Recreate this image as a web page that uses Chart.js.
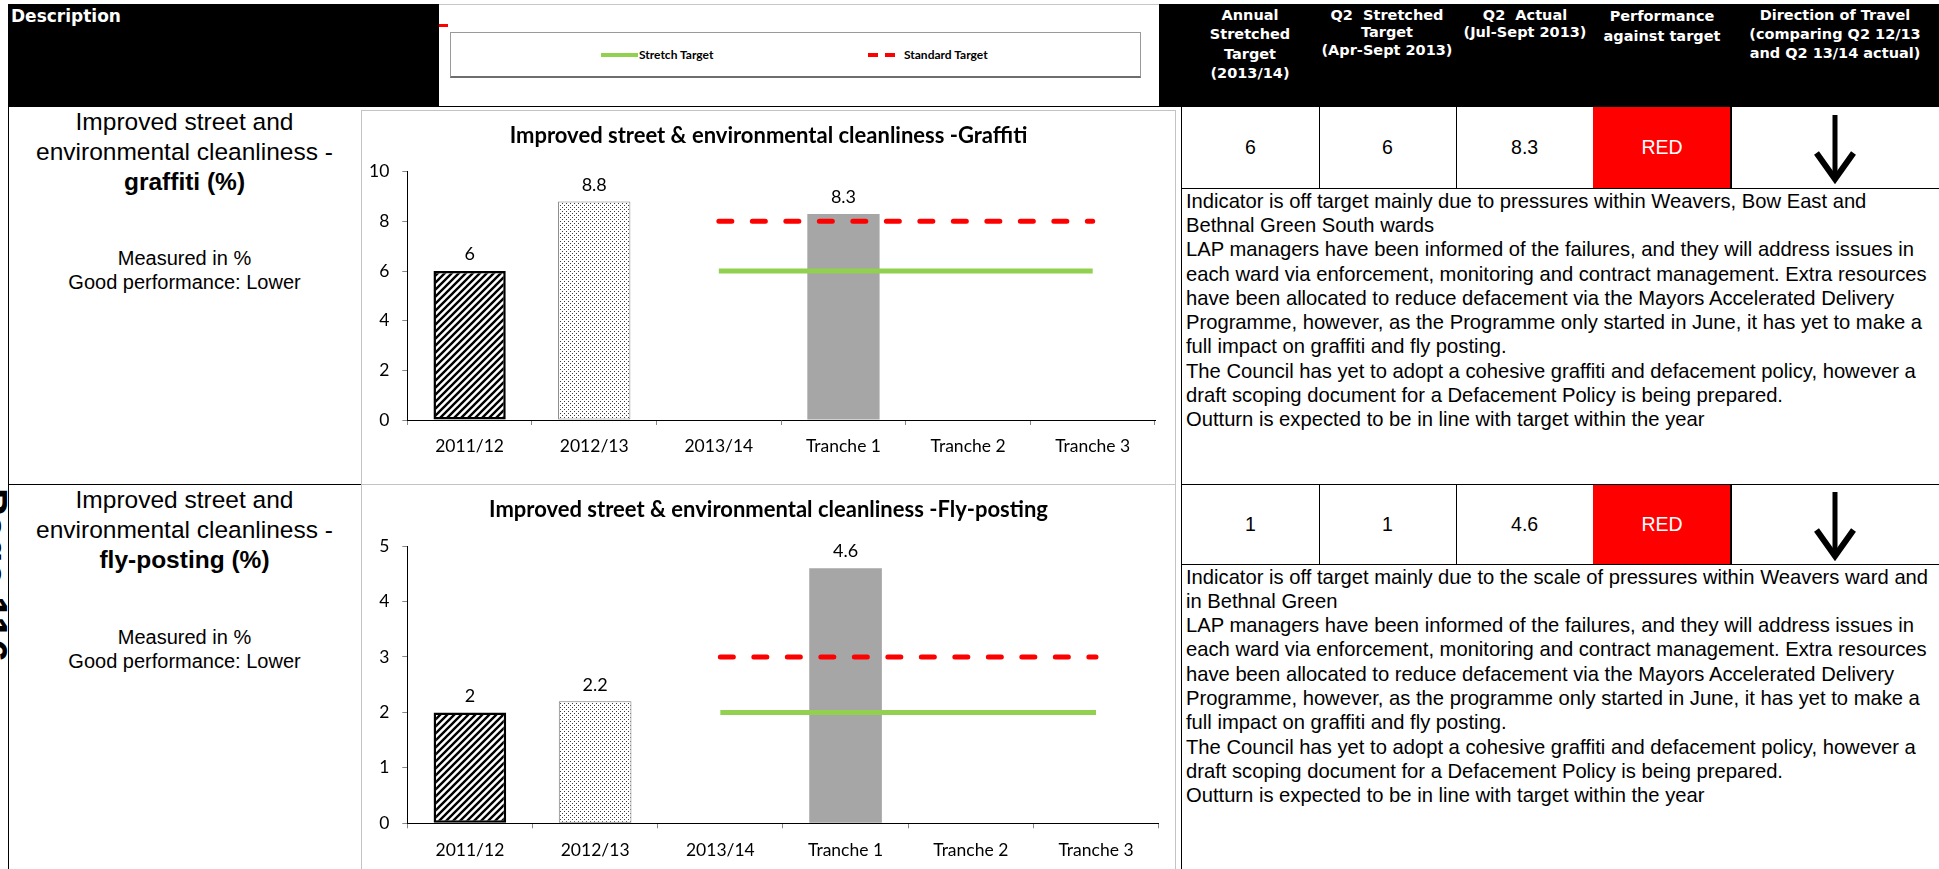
<!DOCTYPE html>
<html>
<head>
<meta charset="utf-8">
<title>Street cleanliness indicators</title>
<script src="https://cdn.jsdelivr.net/npm/chart.js@4.4.0/dist/chart.umd.min.js"></script>
<style>
  html, body { margin: 0; padding: 0; background: #fff; }
  body { width: 1939px; height: 869px; overflow: hidden; position: relative;
         font-family: "Liberation Sans", Arial, sans-serif; color: #000; }
  .abs { position: absolute; }
  .black { position: absolute; background: #000; }
  .hcol { position: absolute; width: 150px; text-align: center; color: #fff;
          font-family: "DejaVu Sans", Verdana, sans-serif; font-weight: bold;
          font-size: 14.5px; white-space: pre; }
  .cell { position: absolute; display: flex; align-items: center; justify-content: center;
          font-size: 19.5px; }
  .red { background: #ff0000; color: #fff; }
  .desc { position: absolute; left: 1186px; font-size: 20.2px; line-height: 24.3px; white-space: pre; }
  .ltitle { position: absolute; left: 8px; width: 353px; text-align: center;
            font-size: 24.5px; line-height: 30px; white-space: pre; }
  .lsub { position: absolute; left: 8px; width: 353px; text-align: center;
          font-size: 20px; line-height: 24.5px; white-space: pre; }
  .chartbox { position: absolute; box-sizing: border-box; border: 1px solid #c3c3c3; background: #fff; }
  canvas.chart { position: absolute; }
  .legtext { position: absolute; font-family: Lato, sans-serif; font-weight: bold; font-size: 12px;
             line-height: 14px; white-space: pre; }
  .pageno { position: absolute; font-weight: bold; font-size: 40.6px; line-height: 40.6px;
            white-space: pre; transform-origin: 0 0; transform: rotate(90deg); }
</style>
</head>
<body>

<!-- header band -->
<div class="black" style="left:8px;top:4px;width:431px;height:103px;"></div>
<div class="abs" style="left:11px;top:6px;color:#fff;font-family:'DejaVu Sans',Verdana,sans-serif;font-weight:bold;font-size:17px;line-height:21px;">Description</div>

<div class="abs" style="left:439px;top:4px;width:720px;height:102px;background:#fff;border-top:1px solid #c8c8c8;box-sizing:border-box;"></div>
<div class="black" style="left:439px;top:106px;width:720px;height:1px;"></div>
<div class="abs" style="left:439px;top:24px;width:9px;height:2.5px;background:#ff0000;"></div>

<!-- legend shared by both charts -->
<div class="abs" style="left:450px;top:32px;width:691px;height:46px;box-sizing:border-box;border:1px solid #9a9a9a;border-bottom:2px solid #6e6e6e;"></div>
<div class="abs" style="left:601px;top:53px;width:37px;height:3.5px;background:#92d050;"></div>
<div class="legtext" style="left:639px;top:47.5px;">Stretch Target</div>
<div class="abs" style="left:868px;top:53px;width:10px;height:3.5px;background:#ff0000;"></div>
<div class="abs" style="left:885px;top:53px;width:10px;height:3.5px;background:#ff0000;"></div>
<div class="legtext" style="left:904px;top:47.5px;">Standard Target</div>

<div class="black" style="left:1158.5px;top:4px;width:781px;height:103px;"></div>
<div class="hcol" style="left:1175px;top:5.5px;line-height:19.5px;">Annual
Stretched
Target
(2013/14)</div>
<div class="hcol" style="left:1312px;top:6.5px;line-height:17.5px;">Q2  Stretched
Target
(Apr-Sept 2013)</div>
<div class="hcol" style="left:1450px;top:6.5px;line-height:17px;">Q2  Actual
(Jul-Sept 2013)</div>
<div class="hcol" style="left:1587px;top:5.5px;line-height:20px;">Performance
against target</div>
<div class="hcol" style="left:1735px;top:5.5px;line-height:19.2px;width:200px;">Direction of Travel
(comparing Q2 12/13
and Q2 13/14 actual)</div>

<!-- table rules -->
<div class="black" style="left:7.8px;top:106px;width:1.2px;height:763px;"></div>
<div class="black" style="left:1181.2px;top:106px;width:1.2px;height:763px;"></div>
<div class="black" style="left:8px;top:484px;width:353px;height:1.2px;"></div>
<div class="black" style="left:1181px;top:484px;width:758px;height:1.2px;"></div>
<div class="black" style="left:1181px;top:187.8px;width:758px;height:1.2px;"></div>
<div class="black" style="left:1181px;top:563.8px;width:758px;height:1.2px;"></div>

<!-- row 1 : graffiti -->
<div class="ltitle" style="top:107px;">Improved street and
environmental cleanliness -
<b>graffiti (%)</b></div>
<div class="lsub" style="top:245.8px;">Measured in %
Good performance: Lower</div>

<div class="cell" style="left:1182px;top:107px;width:137px;height:81px;">6</div>
<div class="black" style="left:1318.6px;top:107px;width:1.2px;height:81px;"></div>
<div class="cell" style="left:1319px;top:107px;width:137px;height:81px;">6</div>
<div class="black" style="left:1455.6px;top:107px;width:1.2px;height:81px;"></div>
<div class="cell" style="left:1456px;top:107px;width:137.3px;height:81px;">8.3</div>
<div class="cell red" style="left:1593.3px;top:107px;width:137.4px;height:81px;">RED</div>
<div class="black" style="left:1730.4px;top:107px;width:1.2px;height:81px;"></div>
<svg class="abs" style="left:1800px;top:107px;" width="70" height="80">
  <line x1="35" y1="8" x2="35" y2="72" stroke="#000" stroke-width="5"/>
  <polyline points="16.5,46 35,72 53.5,46" fill="none" stroke="#000" stroke-width="6" stroke-miterlimit="10"/>
</svg>

<div class="desc" style="top:188.7px;">Indicator is off target mainly due to pressures within Weavers, Bow East and
Bethnal Green South wards
LAP managers have been informed of the failures, and they will address issues in
each ward via enforcement, monitoring and contract management. Extra resources
have been allocated to reduce defacement via the Mayors Accelerated Delivery
Programme, however, as the Programme only started in June, it has yet to make a
full impact on graffiti and fly posting.
The Council has yet to adopt a cohesive graffiti and defacement policy, however a
draft scoping document for a Defacement Policy is being prepared.
Outturn is expected to be in line with target within the year</div>

<!-- row 2 : fly-posting -->
<div class="pageno" style="left:12.8px;top:488px;">Page 116</div>
<div class="ltitle" style="top:485px;">Improved street and
environmental cleanliness -
<b>fly-posting (%)</b></div>
<div class="lsub" style="top:624.5px;">Measured in %
Good performance: Lower</div>

<div class="cell" style="left:1182px;top:484px;width:137px;height:80px;">1</div>
<div class="black" style="left:1318.6px;top:484px;width:1.2px;height:80px;"></div>
<div class="cell" style="left:1319px;top:484px;width:137px;height:80px;">1</div>
<div class="black" style="left:1455.6px;top:484px;width:1.2px;height:80px;"></div>
<div class="cell" style="left:1456px;top:484px;width:137.3px;height:80px;">4.6</div>
<div class="cell red" style="left:1593.3px;top:485px;width:137.4px;height:79px;">RED</div>
<div class="black" style="left:1730.4px;top:484px;width:1.2px;height:80px;"></div>
<svg class="abs" style="left:1800px;top:484px;" width="70" height="80">
  <line x1="35" y1="8" x2="35" y2="72" stroke="#000" stroke-width="5"/>
  <polyline points="16.5,46 35,72 53.5,46" fill="none" stroke="#000" stroke-width="6" stroke-miterlimit="10"/>
</svg>

<div class="desc" style="top:564.5px;">Indicator is off target mainly due to the scale of pressures within Weavers ward and
in Bethnal Green
LAP managers have been informed of the failures, and they will address issues in
each ward via enforcement, monitoring and contract management. Extra resources
have been allocated to reduce defacement via the Mayors Accelerated Delivery
Programme, however, as the programme only started in June, it has yet to make a
full impact on graffiti and fly posting.
The Council has yet to adopt a cohesive graffiti and defacement policy, however a
draft scoping document for a Defacement Policy is being prepared.
Outturn is expected to be in line with target within the year</div>

<!-- chart frames -->
<div class="chartbox" style="left:361px;top:110px;width:815px;height:375px;"></div>
<canvas id="graffitiChart" class="chart" width="813" height="372" style="left:362px;top:111px;"></canvas>
<div class="chartbox" style="left:361px;top:484px;width:815px;height:400px;"></div>
<canvas id="flyChart" class="chart" width="813" height="395" style="left:362px;top:485px;"></canvas>

<script>
// ---- data ----
const categories = ['2011/12', '2012/13', '2013/14', 'Tranche 1', 'Tranche 2', 'Tranche 3'];

const graffitiActual   = [6, 8.8, null, 8.3, null, null];
const graffitiStretch  = [null, null, 6, 6, 6, 6];
const graffitiStandard = [null, null, 8, 8, 8, 8];
const graffitiAxis     = [0, 10, 2];   // min, max, step

const flyActual   = [2, 2.2, null, 4.6, null, null];
const flyStretch  = [null, null, 2, 2, 2, 2];
const flyStandard = [null, null, 3, 3, 3, 3];
const flyAxis     = [0, 5, 1];

// ---- fill patterns for the historic bars ----
function hatchPattern() {
  const c = document.createElement('canvas');
  c.width = 7; c.height = 7;
  const g = c.getContext('2d');
  g.fillStyle = '#fff'; g.fillRect(0, 0, 7, 7);
  g.strokeStyle = '#000'; g.lineWidth = 2.4;
  g.beginPath();
  g.moveTo(-1, 8); g.lineTo(8, -1);
  g.moveTo(-4.5, 4.5); g.lineTo(4.5, -4.5);
  g.moveTo(2.5, 11.5); g.lineTo(11.5, 2.5);
  g.stroke();
  return g.createPattern(c, 'repeat');
}
function dotPattern() {
  const c = document.createElement('canvas');
  c.width = 4; c.height = 4;
  const g = c.getContext('2d');
  g.fillStyle = '#fff'; g.fillRect(0, 0, 4, 4);
  g.fillStyle = '#3c3c3c';
  g.fillRect(0, 0, 1, 1); g.fillRect(2, 2, 1, 1);
  return g.createPattern(c, 'repeat');
}

// value labels above each bar
const barValueLabels = {
  id: 'barValueLabels',
  afterDatasetsDraw(chart) {
    const ctx = chart.ctx;
    chart.data.datasets.forEach((ds, i) => {
      if (ds.type !== 'bar') return;
      chart.getDatasetMeta(i).data.forEach((el, j) => {
        const v = ds.data[j];
        if (v === null || v === undefined) return;
        ctx.save();
        ctx.font = '18px Lato, sans-serif';
        ctx.fillStyle = '#000';
        ctx.textAlign = 'center';
        ctx.textBaseline = 'middle';
        ctx.fillText(String(v), el.x, el.y - 16.5);
        ctx.restore();
      });
    });
  }
};

function buildChart(id, title, actual, stretch, standard, axis, geom) {
  const hatch = hatchPattern();
  const dots = dotPattern();
  return new Chart(document.getElementById(id), {
    type: 'bar',
    data: {
      labels: categories,
      datasets: [
        {
          type: 'line', label: 'Standard Target', data: standard, order: 0,
          borderColor: '#ff0000', borderWidth: 5, borderDash: [13, 20.5], borderCapStyle: 'round',
          pointRadius: 0, fill: false, spanGaps: false
        },
        {
          type: 'line', label: 'Stretch Target', data: stretch, order: 1,
          borderColor: '#92d050', borderWidth: 5, pointRadius: 0, fill: false, spanGaps: false
        },
        {
          type: 'bar', label: 'Actual', data: actual, order: 2,
          backgroundColor: [hatch, dots, '#a6a6a6', '#a6a6a6', '#a6a6a6', '#a6a6a6'],
          borderColor: ['#000', '#7a7a7a', 'rgba(0,0,0,0)', 'rgba(0,0,0,0)', 'rgba(0,0,0,0)', 'rgba(0,0,0,0)'],
          borderWidth: [2.5, 1, 0, 0, 0, 0],
          borderSkipped: false,
          barPercentage: 0.58, categoryPercentage: 1
        }
      ]
    },
    options: {
      responsive: false,
      animation: false,
      events: [],
      layout: { padding: 0 },
      plugins: {
        legend: { display: false },
        tooltip: { enabled: false },
        title: {
          display: true, text: title, color: '#000',
          font: { family: 'Lato', size: 22, weight: 'bold' },
          padding: { top: 11.8, bottom: geom.titleBottom }
        }
      },
      scales: {
        x: {
          ticks: { color: '#000', font: { family: 'Lato', size: 17.5 }, padding: 11.3, maxRotation: 0, autoSkip: false },
          grid: { offset: true, drawOnChartArea: false, drawTicks: true, tickLength: 5, color: '#868686' },
          border: { display: true, color: '#000', width: 1 },
          afterFit(s) { s.height = geom.xHeight; }
        },
        y: {
          min: axis[0], max: axis[1],
          ticks: { stepSize: axis[2], color: '#000', font: { family: 'Lato', size: 17.5 }, padding: 13 },
          grid: { drawOnChartArea: false, drawTicks: true, tickLength: 5, color: '#868686' },
          border: { display: true, color: '#000', width: 1 },
          afterFit(s) { s.width = 45.3; }
        },
        // blank right-hand margin inside the chart frame
        margin: {
          type: 'linear', position: 'right', display: true,
          grid: { display: false }, ticks: { display: false }, border: { display: false },
          afterFit(s) { s.width = geom.right; }
        }
      }
    },
    plugins: [barValueLabels]
  });
}

buildChart('graffitiChart', 'Improved street & environmental cleanliness -Graffiti',
  graffitiActual, graffitiStretch, graffitiStandard, graffitiAxis,
  { right: 20, titleBottom: 22.5, xHeight: 63 });

buildChart('flyChart', 'Improved street & environmental cleanliness -Fly-posting',
  flyActual, flyStretch, flyStandard, flyAxis,
  { right: 16.4, titleBottom: 22.8, xHeight: 56.7 });
</script>
</body>
</html>
